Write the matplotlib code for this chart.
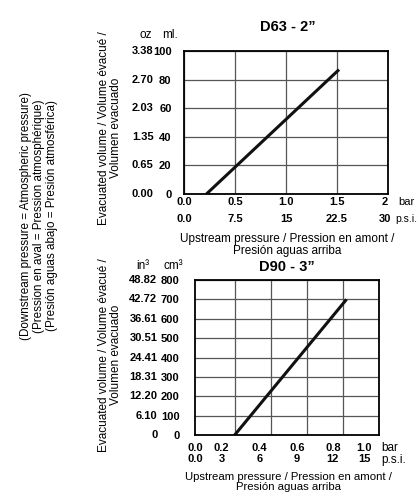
import matplotlib
matplotlib.use('Agg')
import matplotlib.pyplot as plt
import matplotlib.transforms as mtransforms

plt.rcParams['font.family'] = ['Liberation Sans', 'DejaVu Sans']

# D63 - 2" data
d63_bar = [0.22, 1.52]
d63_ml = [0, 87]
d63_ml_ticks = [0, 20, 40, 60, 80, 100]
d63_oz_labels = ['0.00', '0.65', '1.35', '2.03', '2.70', '3.38']
d63_bar_ticks = [0.0, 0.5, 1.0, 1.5, 2.0]
d63_bar_labels = ['0.0', '0.5', '1.0', '1.5', '2']
d63_psi_labels = ['0.0', '7.5', '15', '22.5', '30']

# D90 - 3" data
d90_bar = [0.2, 0.82]
d90_cm3 = [0, 700]
d90_cm3_ticks = [0, 100, 200, 300, 400, 500, 600, 700, 800]
d90_in3_labels = ['0', '6.10', '12.20', '18.31', '24.41', '30.51',
                  '36.61', '42.72', '48.82']
d90_bar_ticks = [0.0, 0.2, 0.4, 0.6, 0.8, 1.0]
d90_bar_labels = ['0.0', '0.2', '0.4', '0.6', '0.8', '1.0']
d90_psi_labels = ['0.0', '3', '6', '9', '12', '15']

W, H = 420, 494
TICK_FS = 8
TXT_FS = 8.5
fig = plt.figure(figsize=(W / 100, H / 100), dpi=100)


def px(x, y):
    return x / W, 1 - y / H


def ftext(x, y, s, **kw):
    fx, fy = px(x, y)
    fig.text(fx, fy, s, **kw)


def setup(ax, xlim, ylim, xticks, yticks, ylabels_in, ylabels_out, out_x, pad):
    ax.set_xlim(*xlim)
    ax.set_ylim(*ylim)
    ax.set_xticks(xticks)
    ax.set_yticks(yticks)
    ax.set_xticklabels([])
    ax.set_yticklabels(ylabels_in, fontsize=TICK_FS, fontweight='bold')
    ax.tick_params(length=0, pad=pad)
    ax.grid(True, color='#555555', lw=0.9)
    for sp in ax.spines.values():
        sp.set_linewidth(1.3)
    trans = mtransforms.blended_transform_factory(ax.transAxes, ax.transData)
    for v, lab in zip(yticks, ylabels_out):
        ax.text(out_x, v, lab, transform=trans, ha='right', va='center',
                fontsize=TICK_FS, fontweight='bold')


def xlabels(ax, ticks, bar_labels, psi_labels, dy1, dy2, shifts):
    trans = mtransforms.blended_transform_factory(ax.transData, ax.transAxes)
    for v, b, p, s in zip(ticks, bar_labels, psi_labels, shifts):
        off = mtransforms.ScaledTranslation(s / 100, 0, fig.dpi_scale_trans)
        ax.text(v, dy1, b, transform=trans + off, ha='center', va='center',
                fontsize=TICK_FS, fontweight='bold')
        ax.text(v, dy2, p, transform=trans + off, ha='center', va='center',
                fontsize=TICK_FS, fontweight='bold')


# top chart
ax1 = fig.add_axes([184 / W, 1 - 194 / H, 204 / W, 143 / H])
setup(ax1, (0, 2), (0, 100), d63_bar_ticks, d63_ml_ticks,
      [str(v) for v in d63_ml_ticks], d63_oz_labels, -0.15, 9)
ax1.plot(d63_bar, d63_ml, color='#111111', lw=2.2, solid_capstyle='butt')
xlabels(ax1, d63_bar_ticks, d63_bar_labels, d63_psi_labels,
        -8 / 143, -25 / 143, [0, 0, 0, 0, -3])
ftext(288, 27, 'D63 - 2\u201d', ha='center', va='center', fontsize=10.5,
      fontweight='bold')
ftext(146, 35, 'oz', ha='center', va='center', fontsize=TXT_FS)
ftext(170, 35, 'ml.', ha='center', va='center', fontsize=TXT_FS)
ftext(398, 202, 'bar', ha='left', va='center', fontsize=8)
ftext(395, 219, 'p.s.i.', ha='left', va='center', fontsize=7.5)
ftext(287, 245, 'Upstream pressure / Pression en amont /\nPresión aguas arriba',
      ha='center', va='center', fontsize=TXT_FS, linespacing=1.05)
ftext(110, 128, 'Evacuated volume / Volume évacué /\nVolumen evacuado',
      ha='center', va='center', rotation=90, fontsize=TXT_FS, linespacing=1.1)

# bottom chart
ax2 = fig.add_axes([195 / W, 1 - 435 / H, 184 / W, 155 / H])
setup(ax2, (-0.02, 1.0), (0, 800), d90_bar_ticks[1:], d90_cm3_ticks,
      [str(v) for v in d90_cm3_ticks], d90_in3_labels, -0.205, 11)
ax2.plot(d90_bar, d90_cm3, color='#111111', lw=2.2, solid_capstyle='butt')
xlabels(ax2, d90_bar_ticks, d90_bar_labels, d90_psi_labels,
        -13 / 155, -24 / 155, [-3, -13, -11, -10, -10, -15])
ftext(287, 267, 'D90 - 3\u201d', ha='center', va='center', fontsize=10.5,
      fontweight='bold')
ftext(143, 266, 'in\u00b3', ha='center', va='center', fontsize=TXT_FS)
ftext(173, 266, 'cm\u00b3', ha='center', va='center', fontsize=TXT_FS)
ftext(381, 448, 'bar', ha='left', va='center', fontsize=TXT_FS)
ftext(381, 460, 'p.s.i.', ha='left', va='center', fontsize=TXT_FS)
ftext(288, 482, 'Upstream pressure / Pression en amont /\nPresión aguas arriba',
      ha='center', va='center', fontsize=8.2, linespacing=1.0)
ftext(110, 355, 'Evacuated volume / Volume évacué /\nVolumen evacuado',
      ha='center', va='center', rotation=90, fontsize=TXT_FS, linespacing=1.1)

# left note
ftext(39, 216, '(Downstream pressure = Atmospheric pressure)\n'
      '(Pression en aval = Pression atmosphérique)\n'
      '(Presión aguas abajo = Presión atmosférica)',
      ha='center', va='center', rotation=90, fontsize=8.4, linespacing=1.15)

fig.savefig('out.png', dpi=100)
